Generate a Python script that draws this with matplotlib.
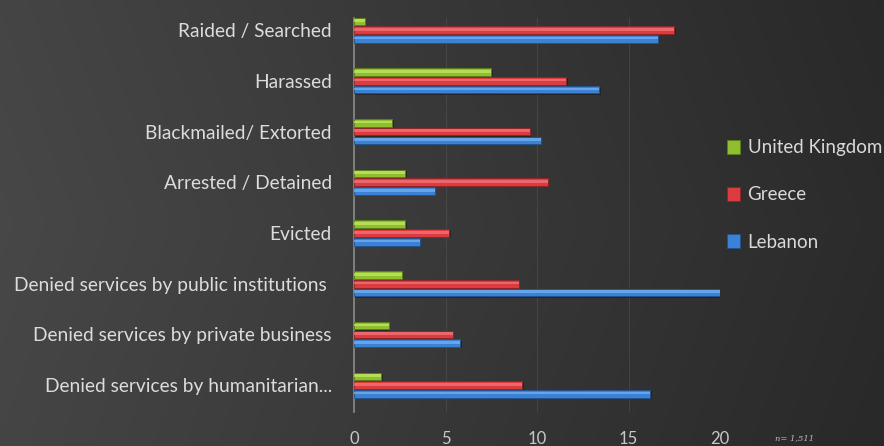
import matplotlib
matplotlib.use("Agg")
import matplotlib.pyplot as plt
import numpy as np

categories = ["Raided / Searched", "Harassed", "Blackmailed/ Extorted", "Arrested / Detained",
              "Evicted", "Denied services by public institutions ", "Denied services by private business",
              "Denied services by humanitarian..."]
uk = [0.6, 7.5, 2.1, 2.8, 2.8, 2.6, 1.9, 1.5]
greece = [17.5, 11.6, 9.6, 10.6, 5.2, 9.0, 5.4, 9.2]
lebanon = [16.6, 13.4, 10.2, 4.4, 3.6, 20.0, 5.8, 16.2]
series_names = ["United Kingdom", "Greece", "Lebanon"]
xticks = [0, 5, 10, 15, 20]

plt.rcParams['font.family'] = ['Lato', 'DejaVu Sans']

fig = plt.figure(figsize=(8.84, 4.46), dpi=100)
# background gradient
bg = fig.add_axes([0, 0, 1, 1], zorder=-10)
xx = np.linspace(0, 1, 300)
yy = np.linspace(0, 1, 150)
X, Y = np.meshgrid(xx, yy)
val = 0.26 - 0.11 * X + 0.02 * (1 - np.abs(Y - 0.5))
bg.imshow(np.dstack([val, val, val]).clip(0, 1), aspect='auto', extent=[0, 1, 0, 1], origin='lower')
bg.axis('off')

ax = fig.add_axes([354/884, 1 - 412/446, 366/884, (412 - 18)/446])
ax.set_facecolor('none')

n = len(categories)
ypos = np.arange(n)[::-1].astype(float)
off = 0.172
h = 0.15

colors = {"United Kingdom": ("#8fbf2f", "#c4ea6a", "#5c7d1a"),
          "Greece": ("#dc3c40", "#f47a7c", "#8e2426"),
          "Lebanon": ("#3b82d6", "#78b4f0", "#23528c")}
data = {"United Kingdom": uk, "Greece": greece, "Lebanon": lebanon}
offsets = {"United Kingdom": off, "Greece": 0.0, "Lebanon": -off}

for name in series_names:
    base, light, dark = colors[name]
    vals = data[name]
    yp = ypos + offsets[name]
    # shadow
    ax.barh(yp - 0.025, vals, height=h, color='#151515', alpha=0.5, zorder=2, left=0.08)
    ax.barh(yp, vals, height=h, color=base, edgecolor=dark, linewidth=0.6, zorder=3, label=name)
    ax.barh(yp + 0.015, vals, height=h * 0.35, color=light, alpha=0.7, zorder=4, linewidth=0)

ax.set_xlim(0, 20)
ax.set_ylim(-0.53, n - 1 + 0.24)
ax.set_xticks(xticks)
ax.set_xticklabels([str(t) for t in xticks])
ax.set_yticks(ypos)
ax.set_yticklabels(categories)
ax.tick_params(axis='y', length=0, pad=16, labelsize=13.8, labelcolor='#dcdcdc')
ax.tick_params(axis='x', length=0, pad=14, labelsize=12, labelcolor='#c8c8c8')
for s in ['top', 'right', 'bottom']:
    ax.spines[s].set_visible(False)
ax.spines['left'].set_color('#8a8a8a')
ax.spines['left'].set_linewidth(1.2)
ax.grid(axis='x', which='major', color='#555555', linewidth=0.6, alpha=0.6, zorder=0)
ax.set_axisbelow(True)

handles, labels = ax.get_legend_handles_labels()
leg = fig.legend(handles, labels, loc='center left', bbox_to_anchor=(710/884, 1 - 195/446),
                 frameon=False, fontsize=13.5, labelcolor='#d9d9d9', handlelength=0.7, handleheight=0.7,
                 handletextpad=0.4, labelspacing=1.6)

fig.text(775/884, 1 - 438/446, "n= 1,511", fontsize=6, color='#bdbdbd', style='italic',
         family='DejaVu Serif', va='center')

fig.savefig("out.png", dpi=100)
